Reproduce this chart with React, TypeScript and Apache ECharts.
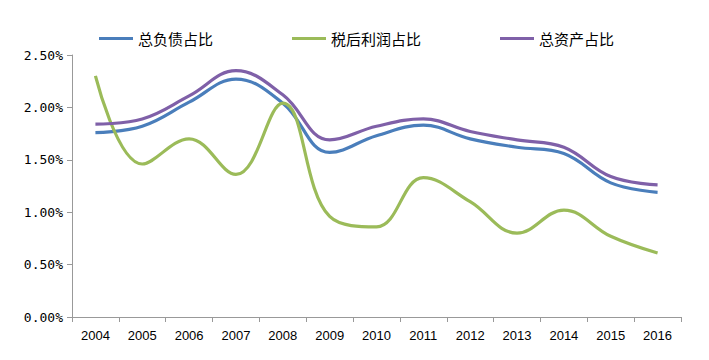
import React, { useEffect, useRef } from "react";
import * as echarts from "echarts";

const years = ["2004","2005","2006","2007","2008","2009","2010","2011","2012","2013","2014","2015","2016"];
const liabilityShare = [1.76, 1.82, 2.05, 2.27, 2.04, 1.57, 1.73, 1.83, 1.70, 1.62, 1.56, 1.28, 1.19];
const profitShare = [2.30, 1.46, 1.70, 1.36, 2.04, 0.96, 0.86, 1.33, 1.10, 0.80, 1.02, 0.77, 0.61];
const assetShare = [1.84, 1.89, 2.11, 2.35, 2.12, 1.69, 1.82, 1.89, 1.77, 1.69, 1.62, 1.34, 1.26];
const seriesNames = ["总负债占比", "税后利润占比", "总资产占比"];
const colors = ["#4A7EBB", "#9BBB59", "#7F60A8"];

export default function App() {
  const ref = useRef<HTMLDivElement>(null);
  useEffect(() => {
    if (!ref.current) return;
    document.body.style.margin = "0";
    const chart = echarts.init(ref.current, null, { renderer: "svg" });
    const data = [liabilityShare, profitShare, assetShare];
    chart.setOption({
      animation: false,
      color: colors,
      legend: {
        top: 26,
        left: 94,
        itemGap: 79,
        itemWidth: 34,
        itemHeight: 3,
        icon: "rect",
        textStyle: { fontFamily: "Noto Sans CJK SC", fontSize: 15, color: "#000", padding: [0, 0, 0, 0] },
        data: seriesNames,
      },
      grid: { left: 72, right: 28, top: 55, bottom: 43 },
      xAxis: {
        type: "category",
        data: years,
        boundaryGap: true,
        axisLine: { lineStyle: { color: "#999" } },
        axisTick: { show: true, alignWithLabel: false, length: 5, lineStyle: { color: "#999" } },
        axisLabel: { color: "#000", fontSize: 13, fontFamily: "Liberation Sans", margin: 12 },
      },
      yAxis: {
        type: "value",
        min: 0,
        max: 2.5,
        interval: 0.5,
        axisLine: { show: true, lineStyle: { color: "#999" } },
        axisTick: { show: true, length: 5, lineStyle: { color: "#999" } },
        splitLine: { show: false },
        axisLabel: {
          color: "#000",
          fontSize: 13,
          fontFamily: "DejaVu Sans Mono",
          margin: 9,
          formatter: (v: number) => v.toFixed(2) + "%",
        },
      },
      series: seriesNames.map((name, i) => ({
        name,
        type: "line",
        data: data[i],
        smooth: 0.4,
        showSymbol: false,
        symbol: "none",
        lineStyle: { width: 3.2, color: colors[i] },
      })),
    });
    return () => chart.dispose();
  }, []);
  return <div ref={ref} style={{ width: 709, height: 360 }} />;
}
